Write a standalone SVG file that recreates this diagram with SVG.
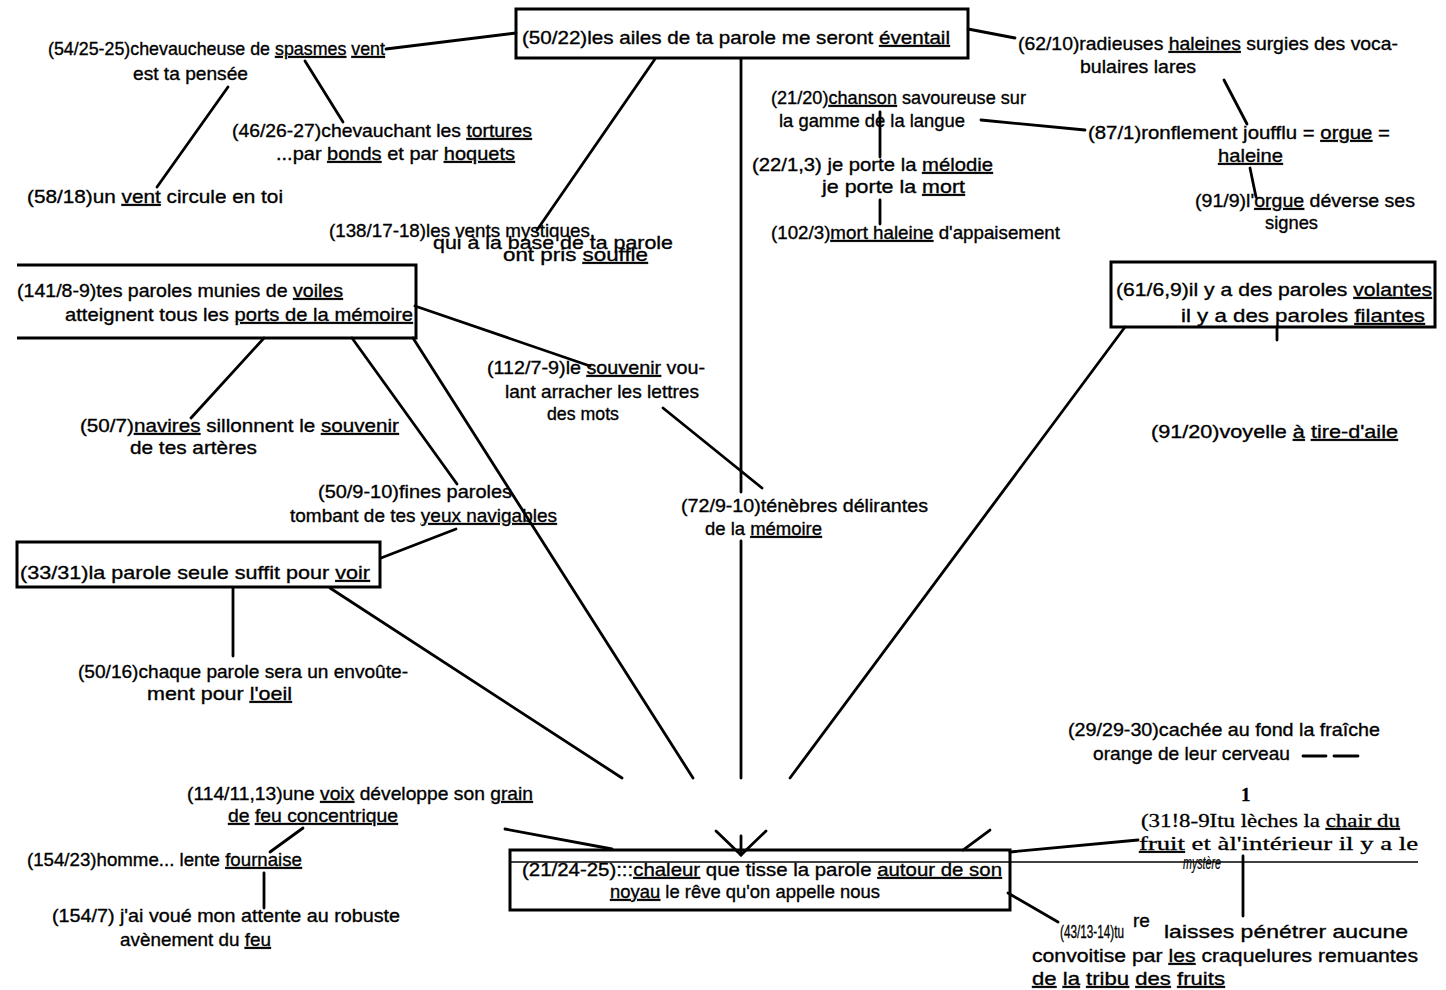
<svg xmlns="http://www.w3.org/2000/svg" width="1446" height="990" viewBox="0 0 1446 990">
<style>
.t{font-family:"Liberation Sans",Arial,sans-serif;font-size:19px;fill:#000;stroke:#000;stroke-width:0.35}
.s{font-family:"Liberation Serif","Times New Roman",serif;font-size:19px;fill:#000;stroke:#000;stroke-width:0.3}
.u{text-decoration:underline}
.c{stroke:#000;stroke-width:2.8;fill:none;stroke-linecap:round}
.b{stroke:#000;stroke-width:3;fill:none}
</style>
<rect width="1446" height="990" fill="#fff"/>
<g id="connectors">
<line class="c" x1="386" y1="49" x2="516" y2="33"/>
<line class="c" x1="305" y1="61" x2="343" y2="122"/>
<line class="c" x1="228" y1="87" x2="157" y2="187"/>
<line class="c" x1="655" y1="59" x2="537" y2="230"/>
<line class="c" x1="968" y1="29" x2="1015" y2="38"/>
<line class="c" x1="741" y1="59" x2="741" y2="492"/>
<line class="c" x1="741" y1="541" x2="741" y2="778"/>
<line class="c" x1="880" y1="112" x2="880" y2="157"/>
<line class="c" x1="880" y1="200" x2="880" y2="224"/>
<line class="c" x1="981" y1="120" x2="1085" y2="130"/>
<line class="c" x1="1224" y1="80" x2="1247" y2="124"/>
<line class="c" x1="1250" y1="168" x2="1256" y2="197"/>
<line class="c" x1="264" y1="338" x2="191" y2="418"/>
<line class="c" x1="352" y1="338" x2="457" y2="484"/>
<line class="c" x1="415" y1="306" x2="590" y2="366"/>
<line class="c" x1="663" y1="408" x2="762" y2="488"/>
<line class="c" x1="413" y1="338" x2="693" y2="778"/>
<line class="c" x1="456" y1="529" x2="381" y2="558"/>
<line class="c" x1="330" y1="588" x2="622" y2="778"/>
<line class="c" x1="233" y1="588" x2="233" y2="656"/>
<line class="c" x1="1125" y1="327" x2="790" y2="778"/>
<line class="c" x1="1277" y1="327" x2="1277" y2="340"/>
<line class="c" x1="716" y1="831" x2="741" y2="855"/>
<line class="c" x1="766" y1="831" x2="741" y2="855"/>
<line class="c" x1="741" y1="836" x2="741" y2="855"/>
<line class="c" x1="505" y1="829" x2="612" y2="849"/>
<line class="c" x1="990" y1="830" x2="963" y2="850"/>
<line class="c" x1="1138" y1="840" x2="1010" y2="852"/>
<line x1="511" y1="862" x2="1418" y2="862" stroke="#000" stroke-width="1.5"/>
<line class="c" x1="1243" y1="856" x2="1243" y2="916"/>
<line class="c" x1="1008" y1="893" x2="1058" y2="922"/>
<line class="c" x1="303" y1="828" x2="270" y2="852"/>
<line class="c" x1="264" y1="873" x2="264" y2="908"/>
</g>
<g id="n54">
<text class="t" x="48" y="55" textLength="337" lengthAdjust="spacingAndGlyphs">(54/25-25)chevaucheuse de <tspan class="u">spasmes</tspan> <tspan class="u">vent</tspan></text>
<text class="t" x="133" y="80" textLength="115" lengthAdjust="spacingAndGlyphs">est ta pensée</text>
</g>
<g id="n46">
<text class="t" x="232" y="137" textLength="300" lengthAdjust="spacingAndGlyphs">(46/26-27)chevauchant les <tspan class="u">tortures</tspan></text>
<text class="t" x="276" y="160" textLength="239" lengthAdjust="spacingAndGlyphs">...par <tspan class="u">bonds</tspan> et par <tspan class="u">hoquets</tspan></text>
</g>
<g id="n58">
<text class="t" x="27" y="203" textLength="256" lengthAdjust="spacingAndGlyphs">(58/18)un <tspan class="u">vent</tspan> circule en toi</text>
</g>
<g id="n50-22">
<rect class="b" x="516" y="9" width="452" height="49"/>
<text class="t" x="522" y="44" textLength="428" lengthAdjust="spacingAndGlyphs">(50/22)les ailes de ta parole me seront <tspan class="u">éventail</tspan></text>
</g>
<g id="n62">
<text class="t" x="1018" y="50" textLength="380" lengthAdjust="spacingAndGlyphs">(62/10)radieuses <tspan class="u">haleines</tspan> surgies des voca-</text>
<text class="t" x="1080" y="73" textLength="116" lengthAdjust="spacingAndGlyphs">bulaires lares</text>
</g>
<g id="n21-20">
<text class="t" x="771" y="104" textLength="255" lengthAdjust="spacingAndGlyphs">(21/20)<tspan class="u">chanson</tspan> savoureuse sur</text>
<text class="t" x="779" y="127" textLength="186" lengthAdjust="spacingAndGlyphs">la gamme de la langue</text>
</g>
<g id="n22">
<text class="t" x="752" y="171" textLength="241" lengthAdjust="spacingAndGlyphs">(22/1,3) je porte la <tspan class="u">mélodie</tspan></text>
<text class="t" x="822" y="193" textLength="143" lengthAdjust="spacingAndGlyphs">je porte la <tspan class="u">mort</tspan></text>
</g>
<g id="n102">
<text class="t" x="771" y="239" textLength="289" lengthAdjust="spacingAndGlyphs">(102/3)<tspan class="u">mort haleine</tspan> d'appaisement</text>
</g>
<g id="n87">
<text class="t" x="1088" y="139" textLength="302" lengthAdjust="spacingAndGlyphs">(87/1)ronflement joufflu = <tspan class="u">orgue</tspan> =</text>
<text class="t" x="1218" y="162" textLength="65" lengthAdjust="spacingAndGlyphs"><tspan class="u">haleine</tspan></text>
</g>
<g id="n91-9">
<text class="t" x="1195" y="207" textLength="220" lengthAdjust="spacingAndGlyphs">(91/9)l'<tspan class="u">orgue</tspan> déverse ses</text>
<text class="t" x="1265" y="229" textLength="53" lengthAdjust="spacingAndGlyphs">signes</text>
</g>
<g id="n138">
<text class="t" x="329" y="237" font-size="17" textLength="266" lengthAdjust="spacingAndGlyphs">(138/17-18)les vents mystiques,</text>
<text class="t" x="433" y="249" font-size="17" textLength="240" lengthAdjust="spacingAndGlyphs">qui à la base de ta parole</text>
<text class="t" x="503" y="261" font-size="17" textLength="145" lengthAdjust="spacingAndGlyphs">ont pris <tspan class="u">souffle</tspan></text>
</g>
<g id="n141">
<path class="b" d="M17,265 H416 V338 H17"/>
<text class="t" x="17" y="297" textLength="326" lengthAdjust="spacingAndGlyphs">(141/8-9)tes paroles munies de <tspan class="u">voiles</tspan></text>
<text class="t" x="65" y="321" textLength="348" lengthAdjust="spacingAndGlyphs">atteignent tous les <tspan class="u">ports de la mémoire</tspan></text>
</g>
<g id="n112">
<text class="t" x="487" y="374" textLength="218" lengthAdjust="spacingAndGlyphs">(112/7-9)le <tspan class="u">souvenir</tspan> vou-</text>
<text class="t" x="505" y="398" textLength="194" lengthAdjust="spacingAndGlyphs">lant arracher les lettres</text>
<text class="t" x="547" y="420" textLength="72" lengthAdjust="spacingAndGlyphs">des mots</text>
</g>
<g id="n50-7">
<text class="t" x="80" y="432" textLength="319" lengthAdjust="spacingAndGlyphs">(50/7)<tspan class="u">navires</tspan> sillonnent le <tspan class="u">souvenir</tspan></text>
<text class="t" x="130" y="454" textLength="127" lengthAdjust="spacingAndGlyphs">de tes artères</text>
</g>
<g id="n50-9">
<text class="t" x="318" y="498" textLength="194" lengthAdjust="spacingAndGlyphs">(50/9-10)fines paroles</text>
<text class="t" x="290" y="522" textLength="267" lengthAdjust="spacingAndGlyphs">tombant de tes <tspan class="u">yeux navigables</tspan></text>
</g>
<g id="n72">
<text class="t" x="681" y="512" textLength="247" lengthAdjust="spacingAndGlyphs">(72/9-10)ténèbres délirantes</text>
<text class="t" x="705" y="535" textLength="117" lengthAdjust="spacingAndGlyphs">de la <tspan class="u">mémoire</tspan></text>
</g>
<g id="n61">
<rect class="b" x="1111" y="262" width="324" height="65"/>
<text class="t" x="1116" y="296" textLength="316" lengthAdjust="spacingAndGlyphs">(61/6,9)il y a des paroles <tspan class="u">volantes</tspan></text>
<text class="t" x="1181" y="322" textLength="244" lengthAdjust="spacingAndGlyphs">il y a des paroles <tspan class="u">filantes</tspan></text>
</g>
<g id="n91-20">
<text class="t" x="1151" y="438" textLength="247" lengthAdjust="spacingAndGlyphs">(91/20)voyelle <tspan class="u">à</tspan> <tspan class="u">tire-d'aile</tspan></text>
</g>
<g id="n33">
<rect class="b" x="17" y="542" width="363" height="45"/>
<text class="t" x="20" y="579" textLength="350" lengthAdjust="spacingAndGlyphs">(33/31)la parole seule suffit pour <tspan class="u">voir</tspan></text>
</g>
<g id="n50-16">
<text class="t" x="78" y="678" textLength="330" lengthAdjust="spacingAndGlyphs">(50/16)chaque parole sera un envoûte-</text>
<text class="t" x="147" y="700" textLength="145" lengthAdjust="spacingAndGlyphs">ment pour <tspan class="u">l'oeil</tspan></text>
</g>
<g id="n29">
<text class="t" x="1068" y="736" textLength="312" lengthAdjust="spacingAndGlyphs">(29/29-30)cachée au fond la fraîche</text>
<text class="t" x="1093" y="760" textLength="197" lengthAdjust="spacingAndGlyphs">orange de leur cerveau</text>
<line class="c" x1="1303" y1="756" x2="1326" y2="756"/>
<line class="c" x1="1334" y1="756" x2="1358" y2="756"/>
</g>
<g id="n31">
<text class="s" x="1241" y="801" font-weight="bold" font-size="18">1</text>
<text class="s" x="1141" y="827" textLength="259" lengthAdjust="spacingAndGlyphs">(31!8-9Itu lèches la <tspan class="u">chair du</tspan></text>
<text class="s" x="1139" y="850" textLength="279" lengthAdjust="spacingAndGlyphs"><tspan class="u">fruit</tspan> et àl'intérieur il y a le</text>
<text class="t" x="1183" y="869" font-size="13" font-style="italic" style="stroke-width:0.2" textLength="38" lengthAdjust="spacingAndGlyphs">mystère</text>
</g>
<g id="n21-24">
<rect class="b" x="510" y="850" width="500" height="60"/>
<text class="t" x="522" y="876" textLength="480" lengthAdjust="spacingAndGlyphs">(21/24-25):::<tspan class="u">chaleur</tspan> que tisse la parole <tspan class="u">autour de son</tspan></text>
<text class="t" x="610" y="898" textLength="270" lengthAdjust="spacingAndGlyphs"><tspan class="u">noyau</tspan> le rêve qu'on appelle nous</text>
</g>
<g id="n43">
<text class="t" x="1060" y="938" font-size="18" textLength="64" lengthAdjust="spacingAndGlyphs">(43/13-14)tu</text>
<text class="t" x="1133" y="927" font-size="16">re</text>
<text class="t" x="1164" y="938" textLength="244" lengthAdjust="spacingAndGlyphs">laisses pénétrer aucune</text>
<text class="t" x="1032" y="962" textLength="386" lengthAdjust="spacingAndGlyphs">convoitise par <tspan class="u">les</tspan> craquelures remuantes</text>
<text class="t" x="1032" y="985" textLength="193" lengthAdjust="spacingAndGlyphs"><tspan class="u">de</tspan> <tspan class="u">la</tspan> <tspan class="u">tribu</tspan> <tspan class="u">des</tspan> <tspan class="u">fruits</tspan></text>
</g>
<g id="n114">
<text class="t" x="187" y="800" textLength="346" lengthAdjust="spacingAndGlyphs">(114/11,13)une <tspan class="u">voix</tspan> développe son <tspan class="u">grain</tspan></text>
<text class="t" x="228" y="822" textLength="170" lengthAdjust="spacingAndGlyphs"><tspan class="u">de</tspan> <tspan class="u">feu concentrique</tspan></text>
</g>
<g id="n154-23">
<text class="t" x="27" y="866" textLength="275" lengthAdjust="spacingAndGlyphs">(154/23)homme... lente <tspan class="u">fournaise</tspan></text>
</g>
<g id="n154-7">
<text class="t" x="52" y="922" textLength="348" lengthAdjust="spacingAndGlyphs">(154/7) j'ai voué mon attente au robuste</text>
<text class="t" x="120" y="946" textLength="151" lengthAdjust="spacingAndGlyphs">avènement du <tspan class="u">feu</tspan></text>
</g>
</svg>
